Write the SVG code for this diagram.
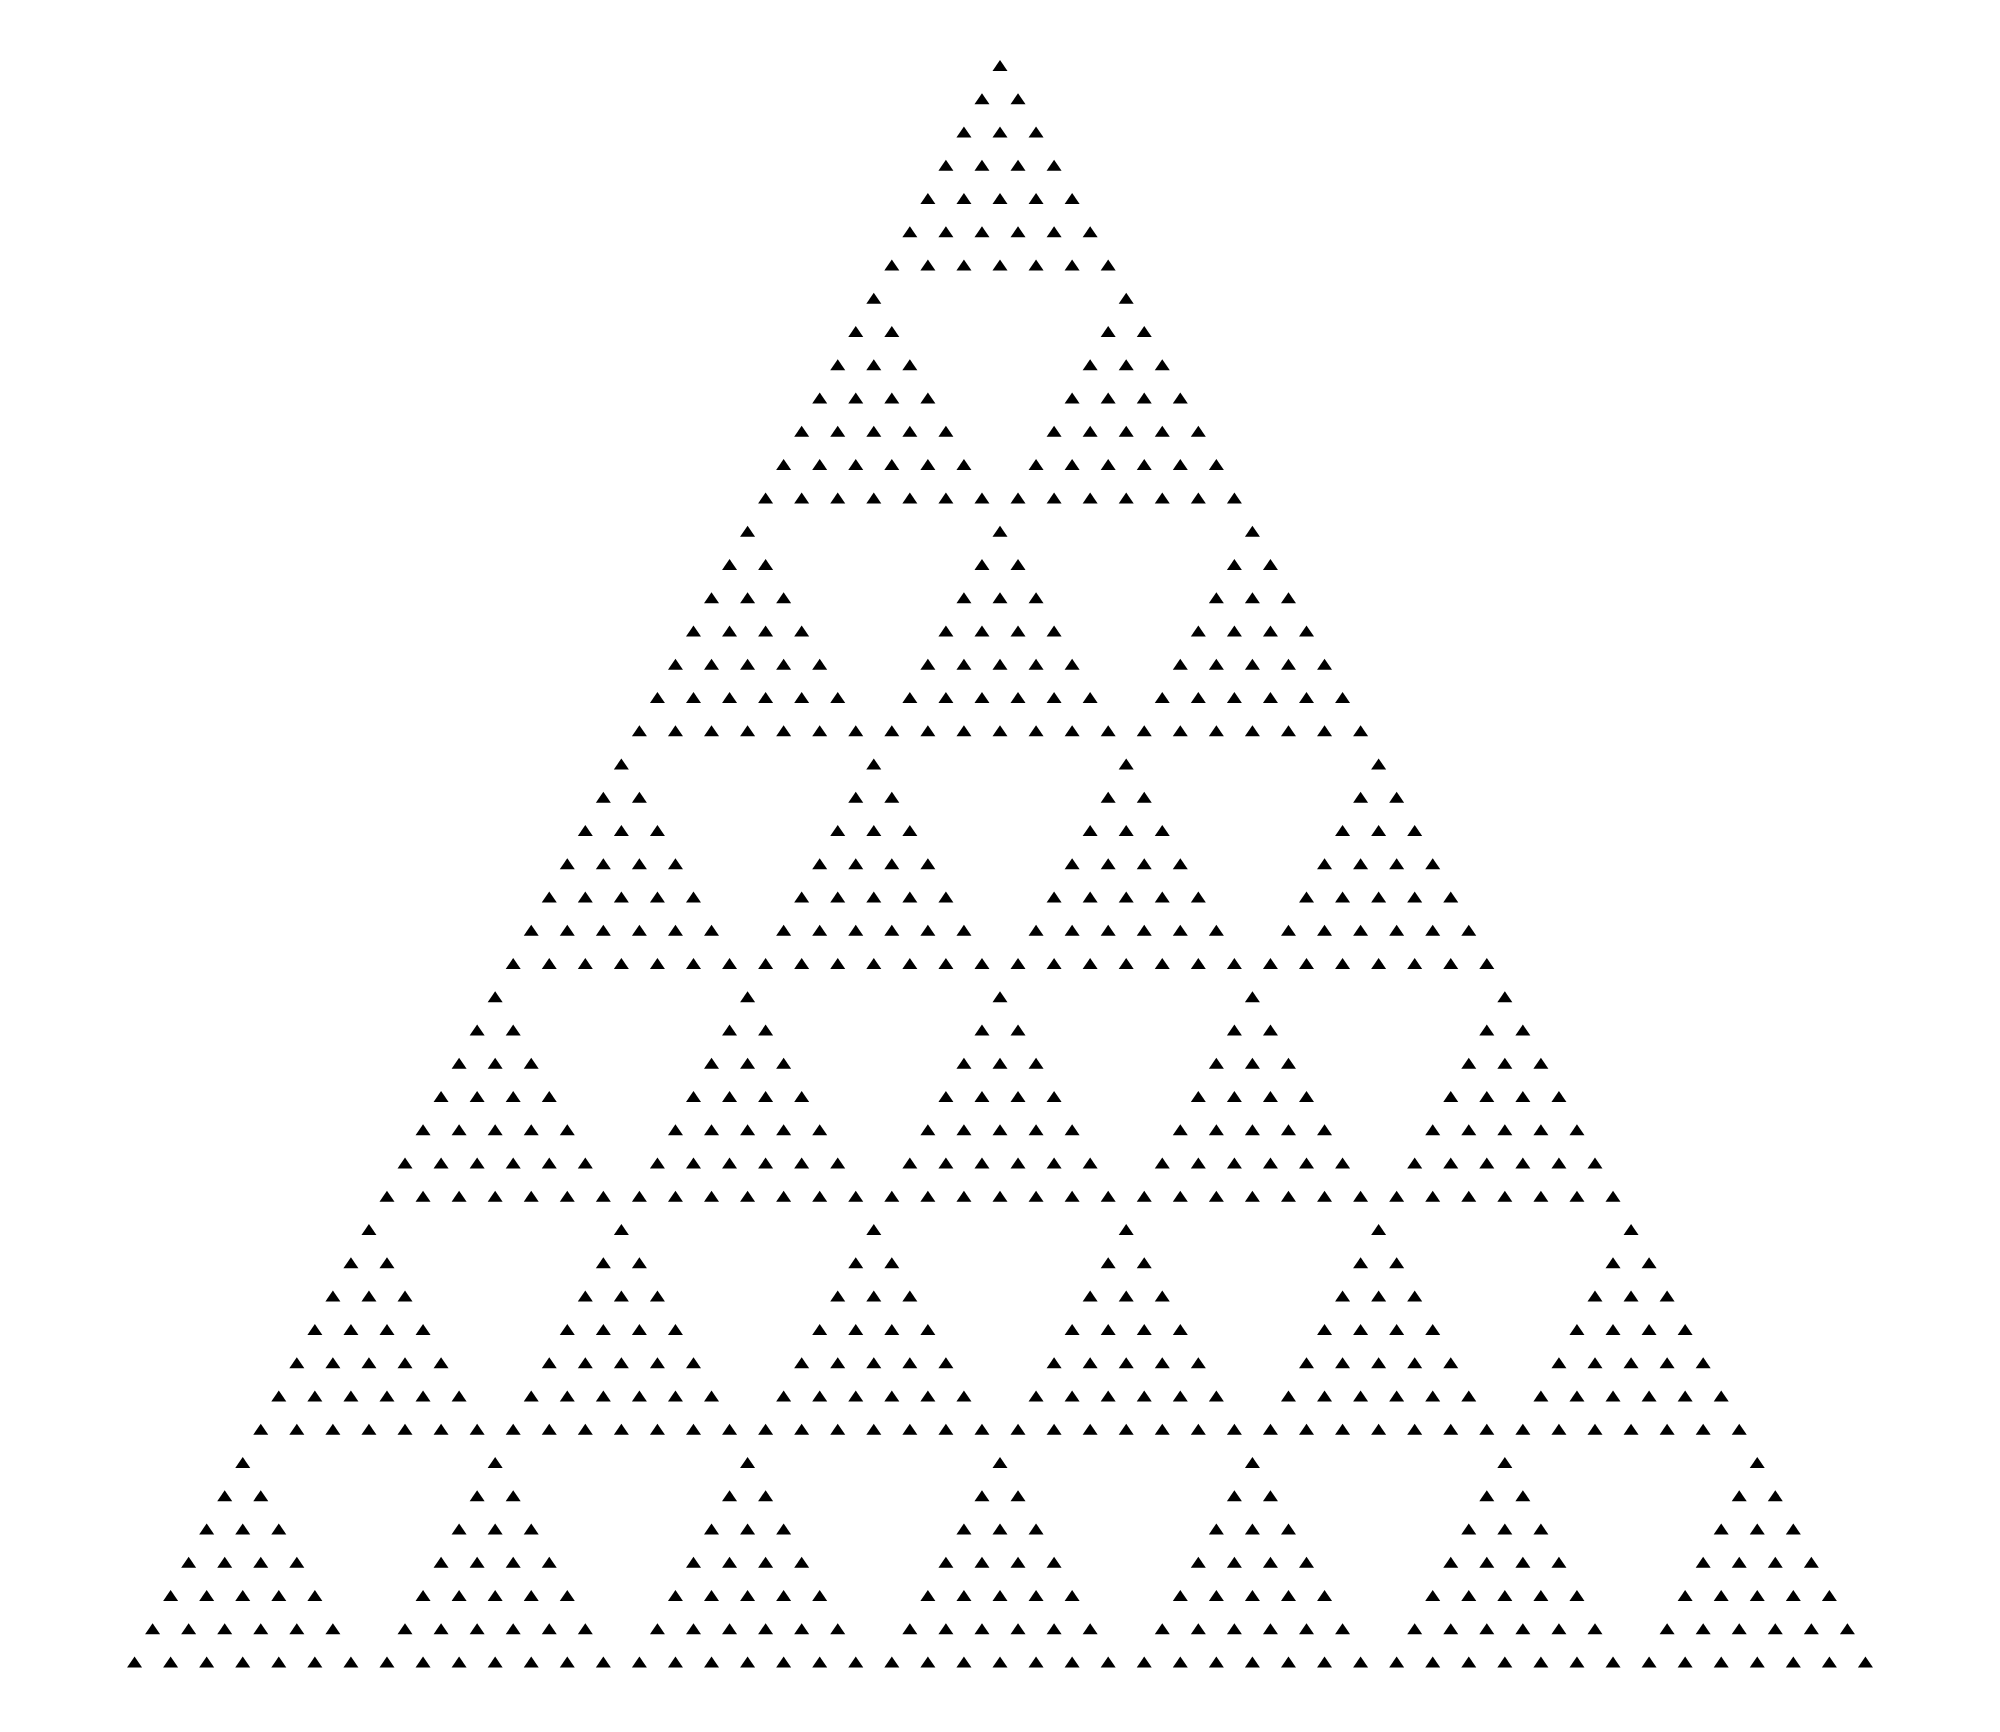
<svg xmlns="http://www.w3.org/2000/svg" xmlns:xlink="http://www.w3.org/1999/xlink" width="2000" height="1732" viewBox="0 0 2000 1732">
<defs>
<style>.t{fill:#000;stroke:none}</style>
<polygon id="tri" class="t" points="0,0 7.5,11 -7.5,11"/>
<g id="sub">
<use href="#tri" x="0" y="0"/>
<use href="#tri" x="-18.03" y="33.26"/><use href="#tri" x="18.03" y="33.26"/>
<use href="#tri" x="-36.06" y="66.52"/><use href="#tri" x="0" y="66.52"/><use href="#tri" x="36.06" y="66.52"/>
<use href="#tri" x="-54.09" y="99.78"/><use href="#tri" x="-18.03" y="99.78"/><use href="#tri" x="18.03" y="99.78"/><use href="#tri" x="54.09" y="99.78"/>
<use href="#tri" x="-72.12" y="133.04"/><use href="#tri" x="-36.06" y="133.04"/><use href="#tri" x="0" y="133.04"/><use href="#tri" x="36.06" y="133.04"/><use href="#tri" x="72.12" y="133.04"/>
<use href="#tri" x="-90.15" y="166.3"/><use href="#tri" x="-54.09" y="166.3"/><use href="#tri" x="-18.03" y="166.3"/><use href="#tri" x="18.03" y="166.3"/><use href="#tri" x="54.09" y="166.3"/><use href="#tri" x="90.15" y="166.3"/>
<use href="#tri" x="-108.18" y="199.56"/><use href="#tri" x="-72.12" y="199.56"/><use href="#tri" x="-36.06" y="199.56"/><use href="#tri" x="0" y="199.56"/><use href="#tri" x="36.06" y="199.56"/><use href="#tri" x="72.12" y="199.56"/><use href="#tri" x="108.18" y="199.56"/>
</g>
</defs>
<rect width="2000" height="1732" fill="#fff"/>
<g id="r0"><use id="s0_0" href="#sub" x="1000" y="60"/></g>
<g id="r1"><use id="s1_0" href="#sub" x="873.79" y="292.82"/><use id="s1_1" href="#sub" x="1126.21" y="292.82"/></g>
<g id="r2"><use id="s2_0" href="#sub" x="747.58" y="525.64"/><use id="s2_1" href="#sub" x="1000" y="525.64"/><use id="s2_2" href="#sub" x="1252.42" y="525.64"/></g>
<g id="r3"><use id="s3_0" href="#sub" x="621.37" y="758.46"/><use id="s3_1" href="#sub" x="873.79" y="758.46"/><use id="s3_2" href="#sub" x="1126.21" y="758.46"/><use id="s3_3" href="#sub" x="1378.63" y="758.46"/></g>
<g id="r4"><use id="s4_0" href="#sub" x="495.16" y="991.28"/><use id="s4_1" href="#sub" x="747.58" y="991.28"/><use id="s4_2" href="#sub" x="1000" y="991.28"/><use id="s4_3" href="#sub" x="1252.42" y="991.28"/><use id="s4_4" href="#sub" x="1504.84" y="991.28"/></g>
<g id="r5"><use id="s5_0" href="#sub" x="368.95" y="1224.1"/><use id="s5_1" href="#sub" x="621.37" y="1224.1"/><use id="s5_2" href="#sub" x="873.79" y="1224.1"/><use id="s5_3" href="#sub" x="1126.21" y="1224.1"/><use id="s5_4" href="#sub" x="1378.63" y="1224.1"/><use id="s5_5" href="#sub" x="1631.05" y="1224.1"/></g>
<g id="r6"><use id="s6_0" href="#sub" x="242.74" y="1456.92"/><use id="s6_1" href="#sub" x="495.16" y="1456.92"/><use id="s6_2" href="#sub" x="747.58" y="1456.92"/><use id="s6_3" href="#sub" x="1000" y="1456.92"/><use id="s6_4" href="#sub" x="1252.42" y="1456.92"/><use id="s6_5" href="#sub" x="1504.84" y="1456.92"/><use id="s6_6" href="#sub" x="1757.26" y="1456.92"/></g>
</svg>
